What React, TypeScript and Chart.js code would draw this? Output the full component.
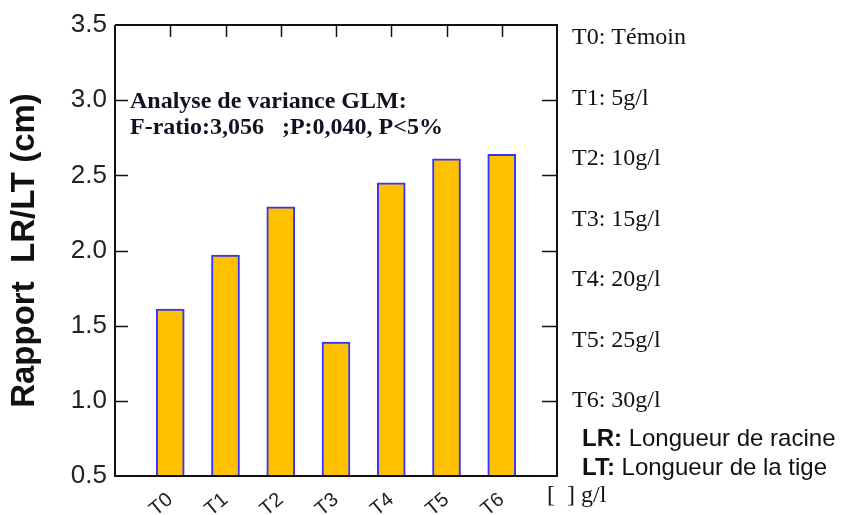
import React, { useEffect, useRef } from "react";
import { Chart, registerables } from "chart.js";

Chart.register(...registerables);

const categories = ["T0", "T1", "T2", "T3", "T4", "T5", "T6"];
const ratioValues = [1.61, 1.97, 2.29, 1.39, 2.45, 2.61, 2.64];
const yTickValues = [0.5, 1.0, 1.5, 2.0, 2.5, 3.0, 3.5];
const legendLines = [
  "T0: Témoin",
  "T1: 5g/l",
  "T2: 10g/l",
  "T3: 15g/l",
  "T4: 20g/l",
  "T5: 25g/l",
  "T6: 30g/l",
];
const abbrevLines = [
  ["LR:", " Longueur de racine"],
  ["LT:", " Longueur de la tige"],
];
const annotationLines = [
  "Analyse de variance GLM:",
  "F-ratio:3,056   ;P:0,040, P<5%",
];
const unitLabel = "[  ] g/l";

const W = 841;
const H = 515;

const decorPlugin = {
  id: "decor",
  afterDraw(chart: any) {
    const { ctx, chartArea } = chart;
    const { left, right, top, bottom } = chartArea;
    const xs = chart.scales.x;
    const ys = chart.scales.y;
    ctx.save();
    ctx.strokeStyle = "#111";
    ctx.lineWidth = 2;
    // frame
    ctx.beginPath();
    ctx.moveTo(left, top);
    ctx.lineTo(right, top);
    ctx.lineTo(right, bottom);
    ctx.lineTo(left, bottom);
    ctx.lineTo(left, top);
    ctx.stroke();
    ctx.lineWidth = 1.5;
    // inward ticks left and right
    ctx.beginPath();
    yTickValues.forEach((v) => {
      if (v <= 0.5 || v >= 3.5) return;
      const py = Math.round(ys.getPixelForValue(v)) + 0.5;
      ctx.moveTo(left, py);
      ctx.lineTo(left + 13, py);
      ctx.moveTo(right, py);
      ctx.lineTo(right - 15, py);
    });
    // inward ticks on top
    categories.forEach((_, i) => {
      const px = Math.round(xs.getPixelForValue(i)) + 0.5;
      ctx.moveTo(px, top);
      ctx.lineTo(px, top + 12);
    });
    ctx.stroke();

    // annotation
    ctx.fillStyle = "#111122";
    ctx.textBaseline = "alphabetic";
    ctx.textAlign = "left";
    ctx.font = "bold 24px 'Liberation Serif'";
    ctx.fillText(annotationLines[0], left + 15, 108);
    ctx.fillText(annotationLines[1], left + 15, 134);

    // legend on right
    ctx.fillStyle = "#111";
    ctx.font = "24px 'Liberation Serif'";
    ctx.textBaseline = "middle";
    legendLines.forEach((t, i) => {
      ctx.fillText(t, 572, 38 + i * 60.5);
    });
    abbrevLines.forEach((pair, i) => {
      const y = 439 + i * 29;
      ctx.font = "bold 24px 'Liberation Sans'";
      ctx.fillText(pair[0], 582, y);
      const w = ctx.measureText(pair[0]).width;
      ctx.font = "24px 'Liberation Sans'";
      ctx.fillText(pair[1], 582 + w, y);
    });
    ctx.font = "24px 'Liberation Serif'";
    ctx.fillText(unitLabel, 547, 496);
    ctx.restore();
  },
};

export default function App() {
  const ref = useRef<HTMLCanvasElement | null>(null);
  useEffect(() => {
    if (!ref.current) return;
    const chart = new Chart(ref.current, {
      type: "bar",
      data: {
        datasets: [
          {
            data: ratioValues.map((v, i) => ({ x: i, y: v })),
            backgroundColor: "#FFC000",
            borderColor: "#3333FF",
            borderWidth: 2,
            barThickness: 28,
            borderSkipped: false,
          },
        ],
      },
      options: {
        animation: false,
        responsive: false,
        maintainAspectRatio: false,
        layout: { padding: { top: 25, right: 284, bottom: 0, left: 0 } },
        plugins: {
          legend: { display: false },
          tooltip: { enabled: false },
        },
        scales: {
          x: {
            type: "linear",
            min: -1,
            max: 7,
            offset: false,
            grid: { display: false },
            border: { display: false },
            afterFit: (s: any) => {
              s.height = 39;
            },
            afterBuildTicks: (s: any) => {
              s.ticks = categories.map((_, i) => ({ value: i }));
            },
            ticks: {
              autoSkip: false,
              maxRotation: 40,
              minRotation: 40,
              padding: 4,
              color: "#222",
              font: { family: "'Liberation Sans'", size: 20 },
              callback: (v: any) => categories[Number(v)] ?? "",
            },
          },
          y: {
            min: 0.5,
            max: 3.5,
            grid: { display: false },
            border: { display: false },
            afterFit: (s: any) => {
              s.width = 115;
            },
            afterBuildTicks: (s: any) => {
              s.ticks = yTickValues.map((v) => ({ value: v }));
            },
            ticks: {
              padding: 0,
              color: "#222",
              font: { family: "'Liberation Sans'", size: 26 },
              callback: (v: any) => Number(v).toFixed(1),
            },
            title: {
              display: true,
              text: "Rapport  LR/LT (cm)",
              color: "#111",
              font: { family: "'Liberation Sans'", size: 33, weight: "bold" },
              padding: { top: 5, bottom: 0 },
            },
          },
        },
      },
      plugins: [decorPlugin],
    } as any);
    return () => chart.destroy();
  }, []);
  return (
    <div style={{ position: "absolute", left: 0, top: 0, width: W, height: H, background: "#fff" }}>
      <canvas ref={ref} width={W} height={H} style={{ width: W, height: H, display: "block" }} />
    </div>
  );
}
